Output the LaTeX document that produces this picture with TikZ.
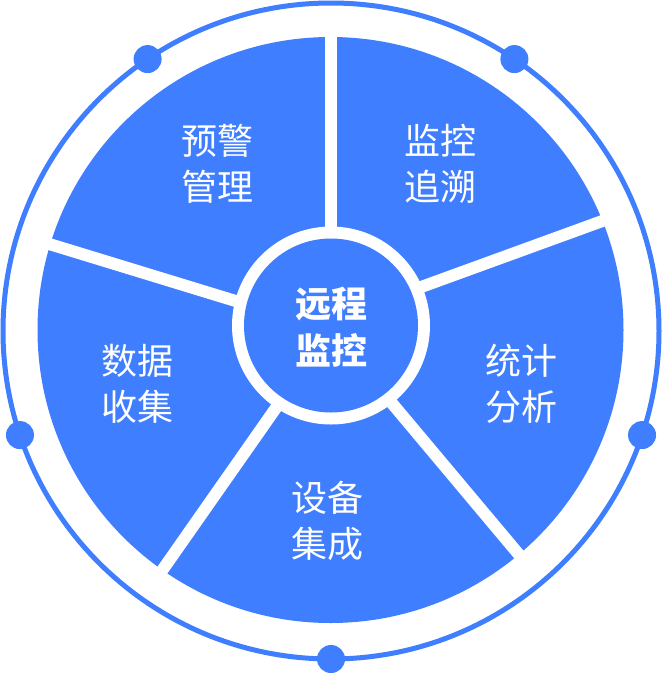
\documentclass[tikz,border=0pt]{standalone}
\usepackage{fontspec}
\newfontfamily\cjk{Noto Sans CJK SC}
\usetikzlibrary{calc}
\definecolor{mainblue}{HTML}{3E7EFF}
\tikzset{
  gapline/.style={white, line width=12pt},
  ringdot/.style={circle, fill=mainblue, minimum size=28pt, inner sep=0pt},
  label/.style={text=white, align=center, inner sep=0pt, font=\cjk\fontsize{36}{46.5}\selectfont},
  centerlabel/.style={text=white, align=center, inner sep=0pt, font=\cjk\bfseries\fontsize{36}{47}\selectfont}
}
\begin{document}
\begin{tikzpicture}[x=1pt,y=-1pt]
\useasboundingbox (0,0) rectangle (662,673);
\fill[white] (0,0) rectangle (662,673);
\coordinate (rc) at (331,331);
\coordinate (pc) at (330.5,330);
\coordinate (ic) at (331,325.5);
% outer ring
\draw[mainblue, line width=5pt] (rc) circle[radius=328];
% pie
\fill[mainblue] (pc) circle[radius=293];
\foreach \a in {90,163,235,310} {
  \draw[gapline] (pc) -- ($(pc)+(-\a:300)$);
}
\coordinate (gs) at (330.5,320);
\coordinate (ge) at (612,217.5);
\draw[gapline] (gs) -- (ge);
% inner circle
\fill[white] (ic) circle[radius=99];
\fill[mainblue] (ic) circle[radius=87];
% dots on ring
\node[ringdot] (d1) at ($(rc)+(-270:328)$) {};
\node[ringdot] (d2) at ($(rc)+(18.5:328)$) {};
\node[ringdot] (d3) at ($(rc)+(-56:328)$) {};
\node[ringdot] (d4) at ($(rc)+(-124:328)$) {};
\node[ringdot] (d5) at ($(rc)+(-198.5:328)$) {};
% labels
\node[centerlabel] (center) at (331,327.5) {远程\\监控};
\node[label] (warn) at (217,164) {预警\\管理};
\node[label] (trace) at (440.5,164) {监控\\追溯};
\node[label] (stat) at (521,384) {统计\\分析};
\node[label] (equip) at (327,521) {设备\\集成};
\node[label] (data) at (137,384) {数据\\收集};
\end{tikzpicture}
\end{document}
